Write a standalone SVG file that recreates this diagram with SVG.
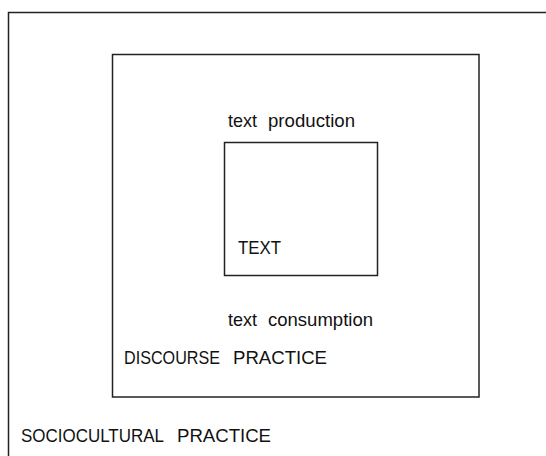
<svg xmlns="http://www.w3.org/2000/svg" width="546" height="456" viewBox="0 0 546 456">
<style>
.box{fill:none;stroke:#222;stroke-width:1.5}
.lbl{font-family:"Liberation Sans",Arial,sans-serif;font-size:19px;fill:#111}
</style>
<rect width="546" height="456" fill="#fff"/>
<g id="sociocultural">
<path class="box" d="M8.5,470 V12.5 H560"/>
<text class="lbl" y="442"><tspan x="21" textLength="143" lengthAdjust="spacingAndGlyphs">SOCIOCULTURAL</tspan><tspan x="177" textLength="94" lengthAdjust="spacingAndGlyphs">PRACTICE</tspan></text>
</g>
<g id="discourse">
<rect class="box" x="112.5" y="54.5" width="366.5" height="342.5"/>
<text class="lbl" y="364"><tspan x="124" textLength="96" lengthAdjust="spacingAndGlyphs">DISCOURSE</tspan><tspan x="233" textLength="94" lengthAdjust="spacingAndGlyphs">PRACTICE</tspan></text>
<text class="lbl" y="127"><tspan x="228" textLength="29" lengthAdjust="spacingAndGlyphs">text</tspan><tspan x="268" textLength="87" lengthAdjust="spacingAndGlyphs">production</tspan></text>
<text class="lbl" y="326"><tspan x="228" textLength="29" lengthAdjust="spacingAndGlyphs">text</tspan><tspan x="268" textLength="105" lengthAdjust="spacingAndGlyphs">consumption</tspan></text>
</g>
<g id="text">
<rect class="box" x="224.5" y="142.5" width="153" height="133"/>
<text class="lbl" x="238" y="254" textLength="43" lengthAdjust="spacingAndGlyphs">TEXT</text>
</g>
<g id="connectors"/>
</svg>
